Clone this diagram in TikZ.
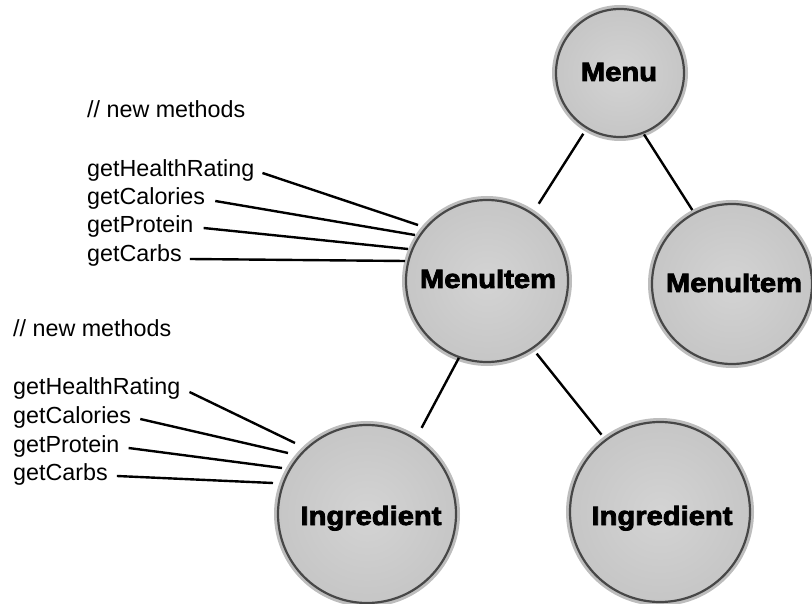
\documentclass[tikz,border=0pt]{standalone}
\usepackage{fontspec}
\setmainfont{Liberation Sans}
\newfontfamily\ballfont{Liberation Sans}[BoldFeatures={FakeStretch=1.1,FakeBold=3}]
\definecolor{ballA}{gray}{0.83}
\definecolor{ballB}{gray}{0.77}
\definecolor{ballC}{gray}{0.66}
\definecolor{ballD}{gray}{0.52}
\definecolor{ballE}{gray}{0.40}
\definecolor{ballRim}{gray}{0.28}
\definecolor{ballHalo}{gray}{0.74}
\pgfdeclareradialshading{ballshade}{\pgfpoint{0bp}{0bp}}{color(0bp)=(ballA); color(28bp)=(ballB); color(40bp)=(ballC); color(46bp)=(ballD); color(50bp)=(ballE)}
\tikzset{
  ball/.style={circle, inner sep=0pt, outer sep=0pt, shade, shading=ballshade,
    draw=ballRim, line width=2.2pt, preaction={draw=ballHalo, line width=8pt}},
  balltext/.style={anchor=base, inner sep=0pt, font=\ballfont\bfseries\fontsize{26.5}{31}\selectfont},
  method/.style={anchor=base west, inner sep=0pt, font=\fontsize{23.3}{28}\selectfont},
  conn/.style={line width=2.4pt, line cap=butt}
}
\begin{document}
\begin{tikzpicture}[x=1pt,y=-1pt]
\useasboundingbox (0,0) rectangle (812,604);
% balls
\node[ball, minimum size=128pt] (menu) at (620,73) {};
\node[ball, minimum size=162pt] (mi1) at (487,281) {};
\node[ball, minimum size=160pt] (mi2) at (732,284) {};
\node[ball, minimum size=178pt] (ing1) at (367,514) {};
\node[ball, minimum size=180pt] (ing2) at (660,512) {};
% ball labels
\node[balltext] (menuL) at (619,81) {Menu};
\node[balltext] (mi1L) at (488,288) {MenuItem};
\node[balltext] (mi2L) at (734,292) {MenuItem};
\node[balltext] (ing1L) at (371,525) {Ingredient};
\node[balltext] (ing2L) at (662,525) {Ingredient};
% tree connectors
\draw[conn, shorten <=7pt, shorten >=12pt] (menu.239.5) -- (mi1.56);
\draw[conn, shorten <=2pt, shorten >=4pt] (menu.291.5) -- (mi2.118);
\draw[conn, shorten <=1pt, shorten >=13pt] (mi1.250) -- (ing1.57);
\draw[conn, shorten <=7pt, shorten >=7pt] (mi1.304) -- (ing2.127);
% top method group
\node[method] (nm1) at (87,118) {// new methods};
\node[method] (h1) at (87,177) {getHealthRating};
\node[method] (c1) at (87,205) {getCalories};
\node[method] (p1) at (87,233) {getProtein};
\node[method] (b1) at (87,262) {getCarbs};
\coordinate (e1) at (418,225);
\coordinate (e2) at (415,235);
\coordinate (e3) at (408,249);
\coordinate (e4) at (405,261);
\draw[conn] (h1.base east) ++(8,-4) -- (e1);
\draw[conn] (c1.base east) ++(10,-4) -- (e2);
\draw[conn] (p1.base east) ++(10,-5) -- (e3);
\draw[conn] (b1.base east) ++(8,-3) -- (e4);
% bottom method group
\node[method] (nm2) at (13,337) {// new methods};
\node[method] (h2) at (13,395) {getHealthRating};
\node[method] (c2) at (13,423) {getCalories};
\node[method] (p2) at (13,452) {getProtein};
\node[method] (b2) at (13,480) {getCarbs};
\coordinate (f1) at (295,443);
\coordinate (f2) at (288,453);
\coordinate (f3) at (282,468);
\coordinate (f4) at (273,483);
\draw[conn] (h2.base east) ++(9,-3) -- (f1);
\draw[conn] (c2.base east) ++(9,-4) -- (f2);
\draw[conn] (p2.base east) ++(9,-4) -- (f3);
\draw[conn] (b2.base east) ++(9,-4) -- (f4);
\end{tikzpicture}
\end{document}
